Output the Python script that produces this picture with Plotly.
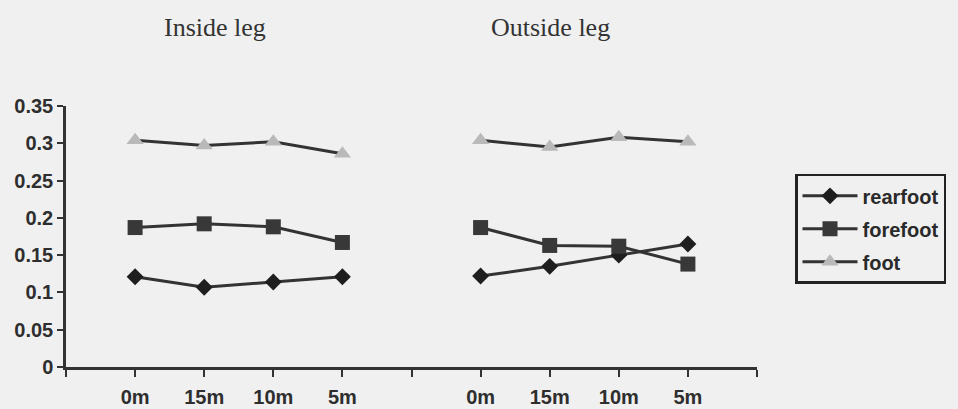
import plotly.graph_objects as go

distances = ["0m", "15m", "10m", "5m"]
groups = ["Inside leg", "Outside leg"]

rearfoot_inside = [0.121, 0.107, 0.114, 0.121]
rearfoot_outside = [0.122, 0.135, 0.150, 0.165]
forefoot_inside = [0.187, 0.192, 0.188, 0.167]
forefoot_outside = [0.187, 0.163, 0.162, 0.138]
foot_inside = [0.304, 0.297, 0.302, 0.286]
foot_outside = [0.304, 0.295, 0.308, 0.302]

y_ticks = [0, 0.05, 0.1, 0.15, 0.2, 0.25, 0.3, 0.35]

# positions: inside at 1..4, blank at 5, outside at 6..9
x_inside = [1, 2, 3, 4]
x_outside = [6, 7, 8, 9]
x_all = x_inside + [5] + x_outside

series = [
    ("rearfoot", rearfoot_inside, rearfoot_outside, "diamond", 13, "#1e1e1e"),
    ("forefoot", forefoot_inside, forefoot_outside, "square", 15, "#383838"),
    ("foot", foot_inside, foot_outside, "triangle-up", 15, "#b9b9b9"),
]

fig = go.Figure()
for name, yin, yout, sym, size, col in series:
    fig.add_trace(go.Scatter(
        x=x_all,
        y=list(yin) + [None] + list(yout),
        mode="lines+markers",
        name=name,
        legendgroup=name,
        connectgaps=False,
        line=dict(color="#333333", width=3),
        marker=dict(symbol=sym, size=size, color=col,
                    line=dict(width=0)),
    ))

ticktext = [""] + distances + [""] + distances + [""]
tickvals = list(range(0, 11))

axis_font = dict(family="Liberation Sans, Arial", size=20, color="#2e2e2e",
                 weight="bold")

fig.update_layout(
    width=958, height=409,
    margin=dict(l=66, r=199, t=106, b=42),
    paper_bgcolor="#f0f0f0",
    plot_bgcolor="#f0f0f0",
    showlegend=True,
    legend=dict(
        x=1.055, y=0.74, xanchor="left", yanchor="top",
        bordercolor="#222222", borderwidth=2.5,
        bgcolor="#f0f0f0",
        font=dict(family="Liberation Sans, Arial", size=20, color="#2a2a2a",
                  weight="bold"),
        tracegroupgap=4,
        itemwidth=55,
    ),
    xaxis=dict(
        range=[0, 10], tickvals=tickvals, ticktext=ticktext,
        showgrid=False, zeroline=False, automargin=False,
        showline=True, linecolor="#333333", linewidth=2.5,
        ticks="outside", ticklen=7, tickwidth=2, tickcolor="#333333",
        tickfont=axis_font, ticklabelstandoff=3,
    ),
    yaxis=dict(
        range=[0, 0.35], tickvals=y_ticks,
        ticktext=[("%g" % v) for v in y_ticks],
        showgrid=False, zeroline=False, automargin=False,
        showline=True, linecolor="#333333", linewidth=2.5,
        ticks="outside", ticklen=6, tickwidth=2, tickcolor="#333333",
        tickfont=axis_font,
    ),
)

title_x = [2.15, 7.01]
for gname, gx in zip(groups, title_x):
    fig.add_annotation(
        x=gx, xref="x", y=1.30, yref="paper",
        text=gname, showarrow=False, xanchor="center", yanchor="middle",
        font=dict(family="Liberation Serif, Times New Roman", size=26,
                  color="#333333"),
    )

fig.write_html("out.html")
